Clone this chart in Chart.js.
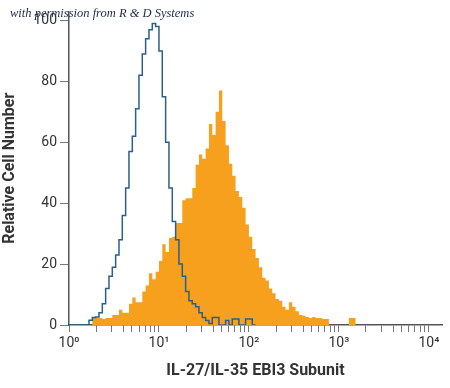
<!DOCTYPE html>
<html>
<head>
<meta charset="utf-8">
<script src="https://cdn.jsdelivr.net/npm/chart.js@4.4.1/dist/chart.umd.min.js"></script>
<style>
  html, body { margin: 0; padding: 0; background: #fff; }
  #wrap { position: relative; width: 450px; height: 388px; }
  #note {
    position: absolute; left: 10px; top: 6px;
    font: italic 12.5px "Liberation Serif", "DejaVu Serif", serif;
    color: #1d2a4a; white-space: nowrap; z-index: 2;
  }
</style>
</head>
<body>
<div id="wrap">
  <div id="note">with permission from R &amp; D Systems</div>
  <canvas id="histo" width="450" height="388"></canvas>
</div>
<script>
// histogram channels: 27 bins per decade, counts start at channel 0 (= 10^0)
const binsPerDecade = 27;
const isotypeCounts = [
  0, 0, 0, 0, 0, 0, 1.6, 2.5, 2.6, 4, 7, 12, 16, 19, 23, 28, 36, 45, 57, 62,
  71, 82, 89, 94, 97, 99, 98, 90, 75, 60, 45, 34, 28, 20, 16, 11, 8, 7, 6, 4,
  2.5, 1.5, 0.5, 2.5, 2.5, 0, 0, 1.5, 0, 2, 2, 0, 0, 2, 2, 0
];
const ebi3Counts = [
  0, 0, 0, 0, 0, 0, 0, 2.3, 2.3, 2.3, 2, 2.3, 2.3, 3.3, 3.3, 5, 4, 4, 7, 9,
  7.5, 7.5, 11, 13, 17, 15, 17.5, 21, 26.5, 24, 28.6, 29, 33.5, 33.5, 41, 41.6, 41.6, 45, 52.6, 56,
  54.6, 58, 66, 62.4, 70, 77, 67, 59, 53, 49, 44, 42, 38.5, 33, 29, 25, 22, 19, 15.5, 14.6,
  12, 10.4, 8.5, 8, 6, 5, 7.5, 6, 4.5, 3.3, 3, 2.6, 2.3, 2.6, 2.3, 2.3, 2, 2, 0, 0,
  0, 0, 0, 0, 2.3, 2.3, 0
];
const decadeTicks = [1, 10, 100, 1000, 10000];
const decadeLabels = ["10\u2070", "10\u00b9", "10\u00b2", "10\u00b3", "10\u2074"];
const yTicks = [0, 20, 40, 60, 80, 100];

function toPoints(counts) {
  const pts = counts.map((v, i) => ({ x: Math.pow(10, i / binsPerDecade), y: v }));
  pts.push({ x: Math.pow(10, counts.length / binsPerDecade), y: 0 });
  return pts;
}

const axisFont = { family: "Roboto, 'Liberation Sans Narrow', sans-serif", size: 14 };
const titleFont = { family: "Roboto, 'Liberation Sans Narrow', sans-serif", size: 16, weight: "bold" };

const ctx = document.getElementById("histo").getContext("2d");
new Chart(ctx, {
  type: "line",
  data: {
    datasets: [
      {
        label: "Isotype",
        data: toPoints(isotypeCounts),
        stepped: true,
        borderColor: "#2a5f8c",
        borderWidth: 1.5,
        pointRadius: 0,
        fill: false,
        order: 0
      },
      {
        label: "EBI3",
        data: toPoints(ebi3Counts),
        stepped: true,
        borderColor: "#f6a01d",
        backgroundColor: "#f6a01d",
        borderWidth: 0,
        pointRadius: 0,
        fill: "origin",
        order: 1
      }
    ]
  },
  options: {
    responsive: false,
    animation: false,
    layout: { padding: { top: 0, right: 8, left: 0, bottom: 0 } },
    plugins: { legend: { display: false }, tooltip: { enabled: false } },
    scales: {
      x: {
        type: "logarithmic",
        min: 1,
        max: 14000,
        afterBuildTicks: (scale) => {
          const t = [];
          decadeTicks.forEach((d, k) => {
            if (k === decadeTicks.length - 1) { t.push({ value: d }); return; }
            for (let m = 1; m <= 9; m++) t.push({ value: m * d });
          });
          scale.ticks = t;
        },
        afterFit: (scale) => { scale.height = 63; },
        border: { color: "#555", width: 1.5 },
        grid: { drawOnChartArea: false, drawTicks: true, tickLength: 7, color: "#777" },
        ticks: {
          autoSkip: false,
          maxRotation: 0,
          padding: 3,
          color: "#333",
          font: axisFont,
          callback: (v) => {
            const k = decadeTicks.indexOf(v);
            return k >= 0 ? decadeLabels[k] : "";
          }
        },
        title: {
          display: true,
          text: "IL-27/IL-35 EBI3 Subunit",
          color: "#333",
          font: titleFont,
          padding: { top: 0, bottom: 7 }
        }
      },
      y: {
        min: 0,
        max: 103,
        afterBuildTicks: (scale) => { scale.ticks = yTicks.map((v) => ({ value: v })); },
        afterFit: (scale) => { scale.width = 69; },
        border: { color: "#555", width: 1.5 },
        grid: { drawOnChartArea: false, drawTicks: true, tickLength: 9, color: "#777" },
        ticks: { padding: 3, color: "#333", font: axisFont },
        title: {
          display: true,
          text: "Relative Cell Number",
          color: "#333",
          font: titleFont,
          padding: { top: 0, bottom: 5 }
        }
      }
    }
  }
});
</script>
</body>
</html>
